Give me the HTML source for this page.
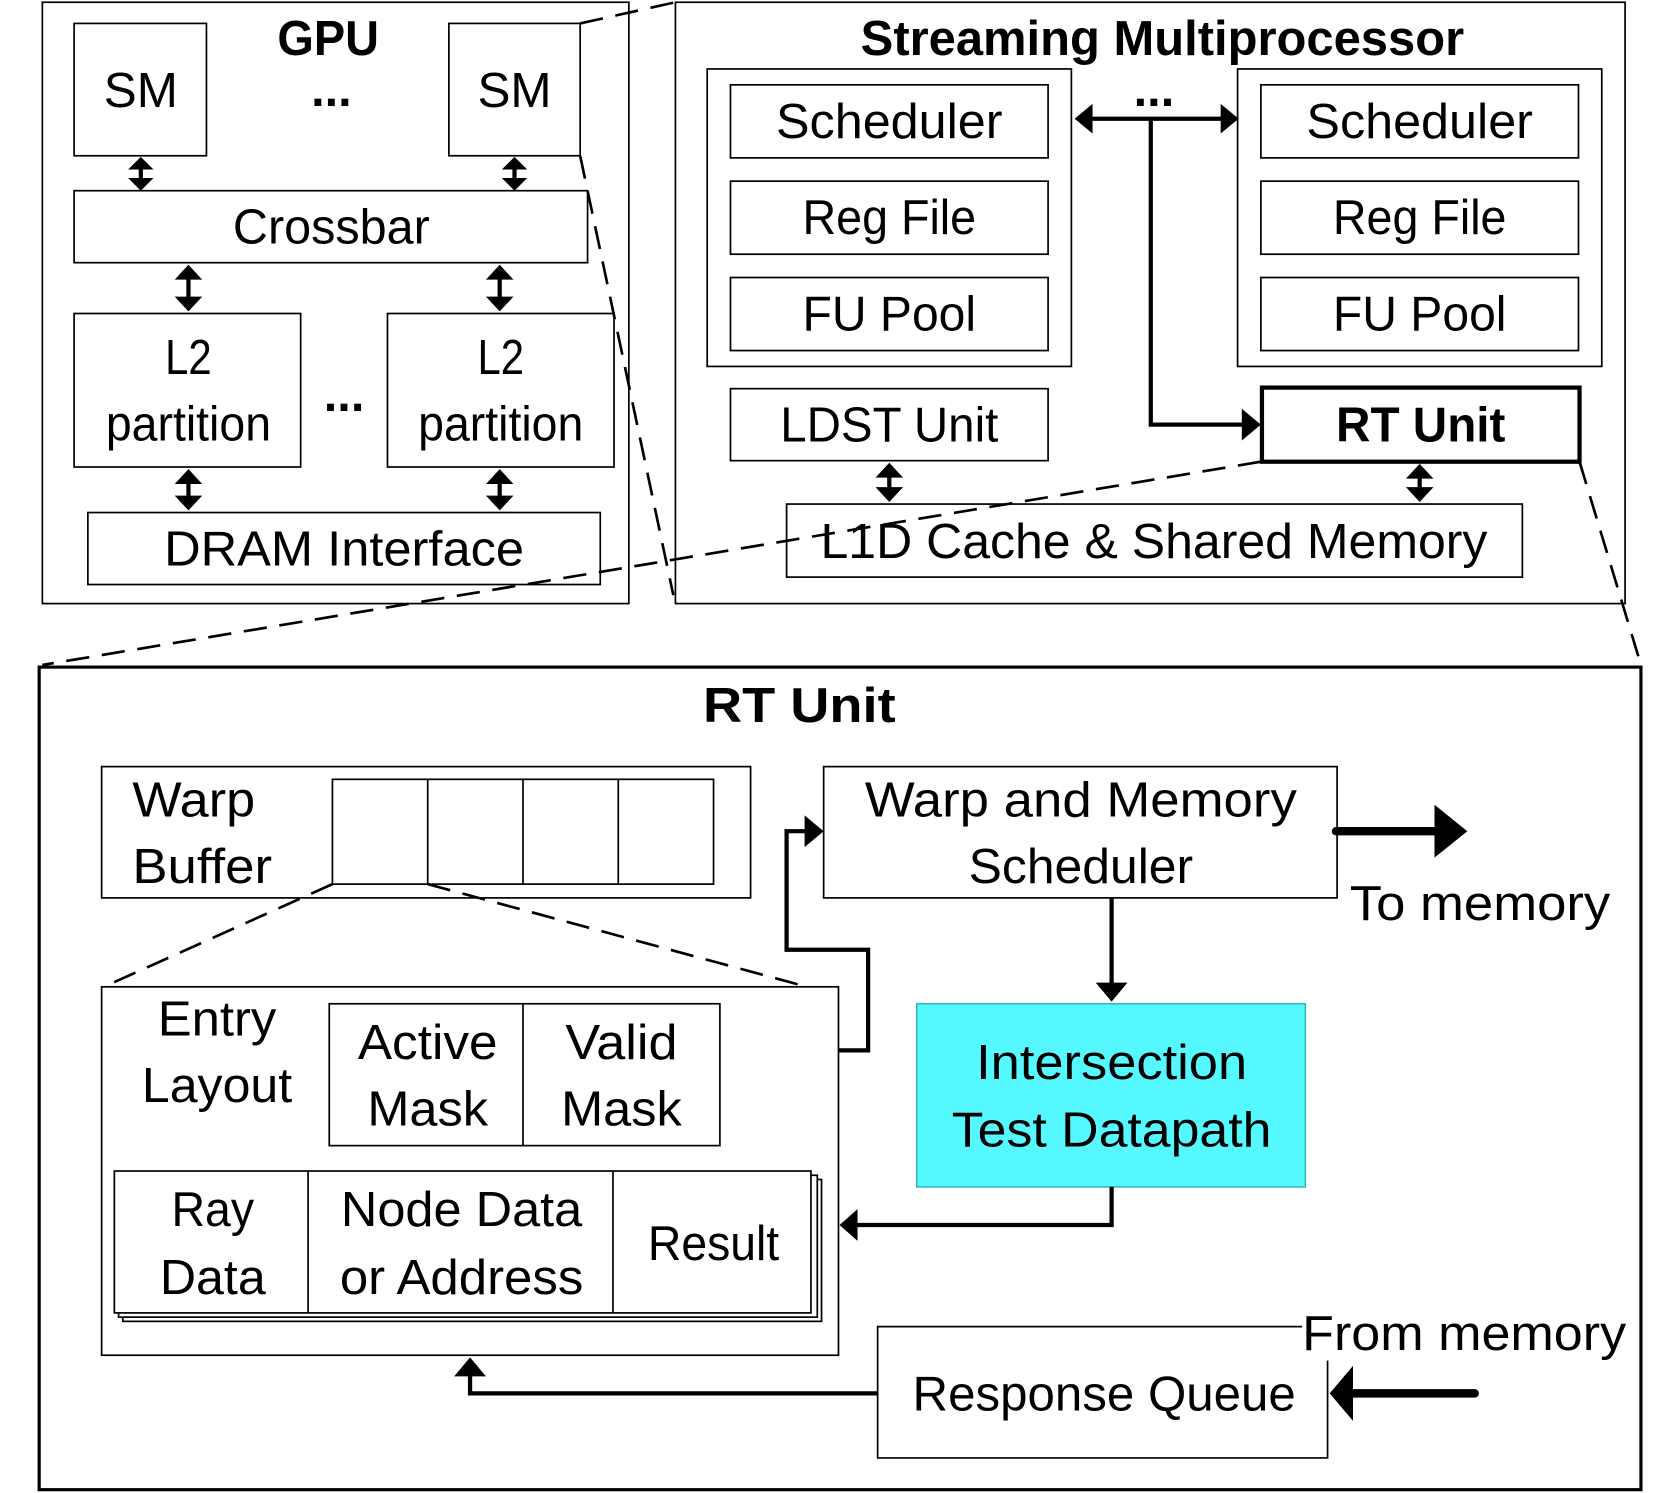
<!DOCTYPE html>
<html><head><meta charset="utf-8"><style>
html,body{margin:0;padding:0;background:#fff}
svg{display:block}
text{font-family:"Liberation Sans",sans-serif;fill:#000}
</style></head><body>
<svg width="1660" height="1493" viewBox="0 0 1568 1410" xmlns="http://www.w3.org/2000/svg">
<g fill="none" stroke="#000" stroke-width="1.6">
<rect x="40" y="2" width="554" height="568"/>
<rect x="70" y="22" width="125" height="125"/>
<rect x="424" y="22" width="124" height="125"/>
<rect x="70" y="180" width="485" height="68"/>
<rect x="70" y="296" width="214" height="145"/>
<rect x="366" y="296" width="214" height="145"/>
<rect x="83" y="484" width="484" height="68"/>
<rect x="638" y="2" width="897" height="568"/>
<rect x="668" y="65" width="344" height="281"/>
<rect x="690" y="80" width="300" height="69"/>
<rect x="690" y="171" width="300" height="69"/>
<rect x="690" y="262" width="300" height="69"/>
<rect x="1169" y="65" width="344" height="281"/>
<rect x="1191" y="80" width="300" height="69"/>
<rect x="1191" y="171" width="300" height="69"/>
<rect x="1191" y="262" width="300" height="69"/>
<rect x="690" y="367" width="300" height="68"/>
<rect x="743" y="476" width="695" height="69"/>
<rect x="1192" y="366" width="300" height="70" stroke-width="4"/>
<rect x="37" y="630" width="1513" height="777" stroke-width="3"/>
<rect x="96" y="724" width="613" height="124"/>
<rect x="314" y="736" width="360" height="99"/>
<line x1="404" y1="736" x2="404" y2="835"/>
<line x1="494" y1="736" x2="494" y2="835"/>
<line x1="584" y1="736" x2="584" y2="835"/>
<rect x="96" y="932" width="696" height="348"/>
<rect x="311" y="948" width="369" height="134"/>
<line x1="494" y1="948" x2="494" y2="1082"/>
<rect x="116" y="1114" width="660" height="134" fill="#fff"/>
<rect x="112" y="1110" width="660" height="134" fill="#fff"/>
<rect x="108" y="1106" width="658" height="134" fill="#fff"/>
<line x1="291" y1="1106" x2="291" y2="1240"/>
<line x1="579" y1="1106" x2="579" y2="1240"/>
<rect x="778" y="724" width="485" height="124"/>
<path d="M1230,1253 L829,1253 L829,1377 L1254,1377 L1254,1285"/>
</g>
<rect x="866" y="948" width="367" height="173" fill="#55f8ff" stroke="#3bb" stroke-width="1.5"/>
<g stroke="#000" stroke-width="2.5" stroke-dasharray="22,12" fill="none">
<line x1="548" y1="22" x2="638" y2="2"/>
<line x1="548" y1="147" x2="636" y2="562"/>
<line x1="1191" y1="436" x2="40" y2="628"/>
<line x1="1492" y1="436" x2="1550" y2="628"/>
<line x1="314" y1="835" x2="107" y2="928"/>
<line x1="404" y1="835" x2="755" y2="930"/>
</g>
<!-- lines -->
<g stroke="#000" stroke-width="4" fill="none">
<line x1="133" y1="158" x2="133" y2="170"/>
<line x1="486" y1="158" x2="486" y2="170"/>
<line x1="178" y1="262" x2="178" y2="282"/>
<line x1="472" y1="262" x2="472" y2="282"/>
<line x1="178" y1="455" x2="178" y2="470"/>
<line x1="472" y1="455" x2="472" y2="470"/>
<line x1="840" y1="449" x2="840" y2="462"/>
<line x1="1341" y1="450" x2="1341" y2="462"/>
<line x1="1030" y1="112" x2="1155" y2="112"/>
<path d="M1087,112 L1087,401 L1175,401"/>
<path d="M1050,848 L1050,930"/>
<path d="M1050,1121 L1050,1157 L808,1157"/>
<path d="M792,992 L820,992 L820,897 L743,897 L743,785 L762,785"/>
<path d="M829,1316 L444,1316 L444,1298"/>
<path d="M1393,1316 L1275,1316" stroke-width="8" stroke-linecap="round"/>
<path d="M1262,785 L1360,785" stroke-width="8" stroke-linecap="round"/>
</g>
<!-- arrowheads -->
<g fill="#000">
<path d="M121,160 L145,160 L133,148z M121,168 L145,168 L133,180z"/>
<path d="M474,160 L498,160 L486,148z M474,168 L498,168 L486,180z"/>
<path d="M165,264 L191,264 L178,250z M165,280 L191,280 L178,294z"/>
<path d="M459,264 L485,264 L472,250z M459,280 L485,280 L472,294z"/>
<path d="M165,457 L191,457 L178,443z M165,468 L191,468 L178,482z"/>
<path d="M459,457 L485,457 L472,443z M459,468 L485,468 L472,482z"/>
<path d="M827,451 L853,451 L840,437z M827,460 L853,460 L840,474z"/>
<path d="M1328,452 L1354,452 L1341,438z M1328,460 L1354,460 L1341,474z"/>
<path d="M1032,98 L1032,126 L1015,112z M1153,98 L1153,126 L1170,112z"/>
<path d="M1173,386 L1173,416 L1191,401z"/>
<path d="M1035,928 L1065,928 L1050,946z"/>
<path d="M810,1142 L810,1172 L793,1157z"/>
<path d="M760,770 L760,800 L778,785z"/>
<path d="M429,1300 L459,1300 L444,1282z"/>
<path d="M1278,1290 L1278,1342 L1256,1316z"/>
<path d="M1355,760 L1355,810 L1386,785z"/>
</g>
<g font-size="46" text-anchor="middle">
<text x="310" y="52" font-weight="bold" lengthAdjust="spacingAndGlyphs" textLength="96">GPU</text>
<text x="313" y="100" font-weight="bold">...</text>
<text x="133" y="101" lengthAdjust="spacingAndGlyphs" textLength="70">SM</text>
<text x="486" y="101" lengthAdjust="spacingAndGlyphs" textLength="70">SM</text>
<text x="313" y="230" lengthAdjust="spacingAndGlyphs" textLength="186">Crossbar</text>
<text x="178" y="353" lengthAdjust="spacingAndGlyphs" textLength="44">L2</text>
<text x="178" y="416" lengthAdjust="spacingAndGlyphs" textLength="156">partition</text>
<text x="473" y="353" lengthAdjust="spacingAndGlyphs" textLength="44">L2</text>
<text x="473" y="416" lengthAdjust="spacingAndGlyphs" textLength="156">partition</text>
<text x="325" y="388" font-weight="bold">...</text>
<text x="325" y="534" lengthAdjust="spacingAndGlyphs" textLength="340">DRAM Interface</text>
<text x="1098" y="52" font-weight="bold" lengthAdjust="spacingAndGlyphs" textLength="570">Streaming Multiprocessor</text>
<text x="1090" y="100" font-weight="bold">...</text>
<text x="840" y="130" lengthAdjust="spacingAndGlyphs" textLength="214">Scheduler</text>
<text x="840" y="221" lengthAdjust="spacingAndGlyphs" textLength="164">Reg File</text>
<text x="840" y="312" lengthAdjust="spacingAndGlyphs" textLength="164">FU Pool</text>
<text x="1341" y="130" lengthAdjust="spacingAndGlyphs" textLength="214">Scheduler</text>
<text x="1341" y="221" lengthAdjust="spacingAndGlyphs" textLength="164">Reg File</text>
<text x="1341" y="312" lengthAdjust="spacingAndGlyphs" textLength="164">FU Pool</text>
<text x="840" y="417" lengthAdjust="spacingAndGlyphs" textLength="206">LDST Unit</text>
<text x="1342" y="417" font-weight="bold" lengthAdjust="spacingAndGlyphs" textLength="160">RT Unit</text>
<text x="1090" y="527" lengthAdjust="spacingAndGlyphs" textLength="630">L1D Cache &amp; Shared Memory</text>
<text x="755" y="682" font-weight="bold" lengthAdjust="spacingAndGlyphs" textLength="182">RT Unit</text>
<text x="1021" y="771" lengthAdjust="spacingAndGlyphs" textLength="408">Warp and Memory</text>
<text x="1021" y="834" lengthAdjust="spacingAndGlyphs" textLength="212">Scheduler</text>
<text x="205" y="978" lengthAdjust="spacingAndGlyphs" textLength="112">Entry</text>
<text x="205" y="1041" lengthAdjust="spacingAndGlyphs" textLength="142">Layout</text>
<text x="404" y="1000" lengthAdjust="spacingAndGlyphs" textLength="132">Active</text>
<text x="404" y="1063" lengthAdjust="spacingAndGlyphs" textLength="114">Mask</text>
<text x="587" y="1000" lengthAdjust="spacingAndGlyphs" textLength="106">Valid</text>
<text x="587" y="1063" lengthAdjust="spacingAndGlyphs" textLength="114">Mask</text>
<text x="201" y="1158" lengthAdjust="spacingAndGlyphs" textLength="78">Ray</text>
<text x="201" y="1222" lengthAdjust="spacingAndGlyphs" textLength="100">Data</text>
<text x="436" y="1158" lengthAdjust="spacingAndGlyphs" textLength="228">Node Data</text>
<text x="436" y="1222" lengthAdjust="spacingAndGlyphs" textLength="230">or Address</text>
<text x="674" y="1190" lengthAdjust="spacingAndGlyphs" textLength="124">Result</text>
<text x="1050" y="1019" lengthAdjust="spacingAndGlyphs" textLength="256">Intersection</text>
<text x="1050" y="1083" lengthAdjust="spacingAndGlyphs" textLength="302">Test Datapath</text>
<text x="1043" y="1332" lengthAdjust="spacingAndGlyphs" textLength="362">Response Queue</text>
</g>
<g font-size="46">
<text x="125" y="771" lengthAdjust="spacingAndGlyphs" textLength="116">Warp</text>
<text x="125" y="834" lengthAdjust="spacingAndGlyphs" textLength="132">Buffer</text>
<text x="1275" y="869" lengthAdjust="spacingAndGlyphs" textLength="246">To memory</text>
<text x="1230" y="1275" lengthAdjust="spacingAndGlyphs" textLength="306">From memory</text>
</g>
</svg>
</body></html>
